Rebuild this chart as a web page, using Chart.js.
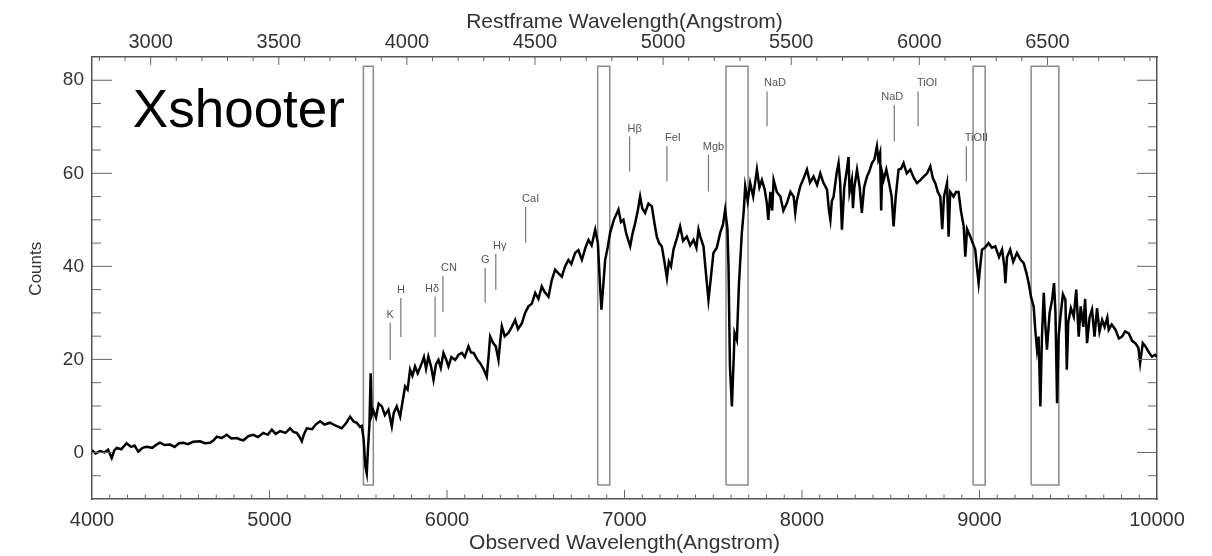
<!DOCTYPE html>
<html><head><meta charset="utf-8">
<script src="https://cdn.jsdelivr.net/npm/chart.js@4/dist/chart.umd.min.js"></script>
<style>html,body{margin:0;padding:0;background:#fff;}canvas{display:block;}</style>
</head><body>
<canvas id="c" width="1212" height="556"></canvas>
<script>
// ---- data ----
const wavelength = [
 4000,4020,4045,4070,4090,4111,4125,4139,4165,4195,
 4220,4240,4261,4285,4308,4340,4360,4383,4410,4440,
 4465,4490,4515,4540,4570,4609,4635,4665,4685,4703,
 4730,4759,4785,4815,4835,4853,4880,4909,4935,4965,
 4990,5013,5035,5060,5090,5116,5135,5154,5170,5182,
 5195,5210,5240,5260,5285,5310,5341,5370,5390,5407,
 5430,5454,5475,5491,5510,5520,5530,5540,5548,5555,
 5563,5570,5576,5585,5600,5615,5633,5650,5670,5689,
 5700,5717,5736,5750,5764,5778,5792,5805,5820,5835,
 5858,5870,5882,5895,5910,5924,5938,5952,5965,5980,
 5995,6008,6025,6046,6065,6084,6100,6121,6135,6150,
 6170,6187,6205,6224,6235,6243,6260,6275,6290,6300,
 6309,6325,6346,6365,6384,6400,6422,6440,6459,6478,
 6497,6515,6534,6550,6572,6590,6609,6628,6647,6665,
 6684,6700,6722,6740,6760,6780,6797,6815,6835,6850,
 6862,6870,6880,6891,6905,6919,6940,6966,6980,6994,
 7010,7032,7045,7060,7075,7088,7100,7116,7135,7154,
 7170,7182,7195,7210,7225,7239,7250,7262,7276,7295,
 7313,7330,7351,7370,7389,7405,7417,7430,7445,7460,
 7473,7485,7501,7520,7539,7555,7567,7580,7586,7594,
 7605,7615,7620,7633,7645,7661,7672,7680,7694,7708,
 7725,7746,7760,7774,7790,7802,7810,7822,7832,7840,7858,
 7878,7895,7915,7935,7953,7962,7970,7990,8010,8028,8045,
 8065,8085,8103,8120,8141,8152,8160,8168,8178,8195,
 8206,8215,8225,8238,8253,8262,8268,8281,8287,8295,8310,8325,
 8337,8350,8366,8380,8394,8408,8422,8430,8440,8446,8452,
 8460,8475,8490,8505,8516,8528,8544,8558,8572,8590,
 8610,8630,8648,8665,8685,8705,8723,8737,8751,8765,
 8779,8790,8800,8817,8826,8835,8854,8868,8882,8895,8911,
 8920,8930,8948,8962,8976,8985,8995,9004,9014,9030,
 9051,9070,9089,9110,9127,9140,9146,9155,9173,9190,
 9211,9230,9249,9265,9277,9290,9305,9315,9324,9333,
 9343,9352,9362,9370,9380,9395,9409,9420,9428,9437,
 9446,9456,9470,9484,9492,9500,9515,9531,9545,9559,
 9570,9585,9595,9606,9620,9634,9648,9662,9676,9691,
 9705,9720,9728,9745,9766,9785,9803,9820,9841,9860,
 9878,9895,9905,9920,9935,9955,9972,9990,10000
];
const counts = [
 0.5,-0.2,0.3,0.0,0.6,-1.2,0.4,1.0,0.7,2.0,
 1.2,1.5,0.2,1.0,1.2,1.0,1.6,2.1,1.6,1.7,
 1.2,2.0,2.1,1.8,2.3,2.4,2.0,2.1,2.6,3.4,
 3.1,3.8,3.0,3.1,2.8,2.6,3.5,3.8,3.3,4.2,
 3.8,4.9,4.0,4.6,4.2,5.2,4.4,4.2,3.3,2.4,
 4.0,5.2,5.0,6.0,6.7,6.0,6.4,5.8,5.5,5.2,
 6.2,7.7,6.6,6.4,5.5,5.7,3.0,-3.0,-4.5,1.0,
 6.0,17.0,8.0,9.0,7.5,10.5,9.9,8.0,9.2,5.6,
 8.5,9.9,7.7,11.0,14.2,13.5,17.8,16.5,18.5,17.0,
 19.2,20.5,18.0,20.6,18.5,15.6,19.0,19.9,18.2,21.4,
 20.0,18.5,20.5,19.9,21.0,21.4,20.5,22.8,21.5,21.4,
 20.0,19.2,18.0,16.3,21.0,24.9,23.5,22.8,19.9,24.0,
 27.1,25.0,25.7,27.0,28.5,26.5,27.8,30.0,31.4,32.0,
 34.3,33.0,35.7,34.5,33.5,37.0,39.3,38.5,37.8,40.0,
 41.4,40.5,42.9,43.5,41.4,44.0,45.7,44.5,47.9,45.0,
 36.0,30.7,35.7,41.4,44.0,47.2,50.0,52.2,49.5,50.0,
 47.0,44.3,47.0,49.3,52.0,55.0,52.5,51.5,53.5,52.9,
 49.0,46.4,45.0,44.3,41.0,37.5,41.0,40.0,43.6,46.0,
 48.6,45.5,46.4,44.5,45.7,44.0,47.9,46.0,44.3,38.0,
 32.8,37.0,42.9,44.0,47.2,49.0,52.2,48.0,40.0,18.5,
 9.9,20.0,25.7,24.2,36.4,47.2,52.0,57.2,54.0,57.9,
 55.0,60.8,57.0,58.6,56.5,53.6,50.0,56.0,52.0,58.6,56.0,
 55.0,52.0,53.6,56.0,55.0,51.5,54.0,57.2,59.0,60.8,58.0,
 59.3,57.5,60.0,58.0,56.5,52.0,50.0,54.0,55.0,60.0,
 62.2,58.0,47.9,57.0,60.8,63.5,56.0,58.6,52.5,57.0,60.8,57.0,
 51.5,57.0,59.3,60.5,62.2,63.0,65.8,63.0,64.4,52.0,60.0,
 58.6,60.8,58.0,55.0,48.6,55.0,60.8,61.0,62.2,60.0,
 60.8,59.0,57.9,58.5,59.3,60.0,61.5,59.0,57.9,56.0,
 55.0,48.0,55.0,57.9,46.4,56.0,55.0,56.0,56.0,52.0,48.6,
 42.1,48.0,46.4,45.0,43.6,40.0,36.4,40.0,43.6,44.0,
 45.0,44.0,44.3,42.0,43.6,40.0,36.4,42.0,43.6,41.0,
 42.9,41.5,40.7,38.5,36.4,33.5,31.4,26.0,22.1,24.9,
 9.9,25.0,34.3,28.0,22.1,30.0,32.8,36.4,30.0,10.6,
 25.0,29.2,34.0,32.8,17.8,28.0,31.0,29.2,35.0,24.9,
 31.4,27.0,33.0,23.5,29.0,30.7,24.9,31.0,26.0,28.5,
 27.0,29.0,26.4,27.5,26.4,24.5,24.9,26.0,25.6,24.0,
 23.5,22.5,19.2,23.5,22.8,21.5,20.6,21.0,20.5
];
// masked (telluric / gap) regions, observed Angstrom
const boxStart = [5529, 6849, 7572, 8964, 9291];
const boxEnd   = [5585, 6917, 7696, 9032, 9447];
const boxBottom = -7, boxTop = 83;
// spectral feature markers
const featureNames  = ['K','H','Hδ','CN','G','Hγ','CaI','Hβ','FeI','Mgb','NaD','NaD','TiOI','TiOII'];
const featureWave   = [5680,5740,5933,5977,6215,6275,6443,7029,7239,7473,7803,8520,8654,8926];
const featureTop    = [27.9,33.2,33.5,38.0,39.7,42.7,52.8,67.9,65.8,64.0,77.6,74.7,77.6,65.8];
const featureBottom = [19.9,24.8,24.8,30.2,32.2,35.0,45.1,60.4,58.3,56.1,70.1,66.9,70.1,58.3];
const onePlusZ = 1.4435;
const xLimits = [4000, 10000];
const yLimits = [-10, 85];
const bottomTickLabels = [4000, 5000, 6000, 7000, 8000, 9000, 10000];
const topTickLabels = [3000, 3500, 4000, 4500, 5000, 5500, 6000, 6500];
const yTickLabels = [0, 20, 40, 60, 80];
const panelName = 'Xshooter';
const yTitle = 'Counts';

// ---- styling ----
const FONT = "'Liberation Sans', Arial, Helvetica, sans-serif";
const labelShift = [0,0,-3,6,0,4,5,5,6,5,8,-2,9,10];
Chart.defaults.font.family = FONT;

const datasets = [{
  data: wavelength.map((w, i) => ({x: w, y: counts[i]})),
  showLine: true, borderColor: '#000', borderWidth: 2.5, pointRadius: 0,
  order: 0, tension: 0
}];
boxStart.forEach((s, i) => {
  const e = boxEnd[i];
  datasets.push({
    data: [{x:s,y:boxBottom},{x:s,y:boxTop},{x:e,y:boxTop},{x:e,y:boxBottom},{x:s,y:boxBottom}],
    showLine: true, borderColor: '#8a8a8a', borderWidth: 1.5, pointRadius: 0, order: 2
  });
});
featureWave.forEach((w, i) => {
  datasets.push({
    data: [{x:w,y:featureBottom[i]},{x:w,y:featureTop[i]}],
    showLine: true, borderColor: '#777', borderWidth: 1.2, pointRadius: 0, order: 1
  });
});

const decor = {
  id: 'decor',
  afterDatasetsDraw(chart) {
    const {ctx, chartArea: a, scales} = chart;
    const x = scales.x, xt = scales.xTop, y = scales.y;
    ctx.save();
    ctx.strokeStyle = '#666'; ctx.lineWidth = 1;
    const seg = (x1,y1,x2,y2) => {ctx.beginPath();ctx.moveTo(x1,y1);ctx.lineTo(x2,y2);ctx.stroke();};
    for (let v = xLimits[0] + 100; v < xLimits[1]; v += 100) {
      const p = x.getPixelForValue(v);
      seg(p, a.bottom, p, a.bottom - (v % 1000 === 0 ? 9 : 4.5));
    }
    for (let v = Math.ceil(xt.min / 100) * 100; v <= xt.max; v += 100) {
      const p = xt.getPixelForValue(v);
      seg(p, a.top, p, a.top + (v % 500 === 0 ? 8 : 4));
    }
    for (let v = yLimits[0] + 5; v < yLimits[1]; v += 5) {
      const p = y.getPixelForValue(v);
      const L = v % 20 === 0 ? 20 : 9;
      seg(a.left, p, a.left + L, p);
      seg(a.right, p, a.right - L, p);
    }
    // feature labels
    ctx.fillStyle = '#555';
    ctx.font = '11px ' + FONT;
    ctx.textAlign = 'center';
    ctx.textBaseline = 'alphabetic';
    featureNames.forEach((n, i) => {
      ctx.fillText(n, x.getPixelForValue(featureWave[i]) + labelShift[i], y.getPixelForValue(featureTop[i]) - 5);
    });
    // panel name
    ctx.fillStyle = '#000';
    ctx.font = '53px ' + FONT;
    ctx.textAlign = 'left';
    ctx.fillText(panelName, x.getPixelForValue(4230), y.getPixelForValue(70));
    // y-axis title
    ctx.save();
    ctx.translate(36, y.getPixelForValue(39.5));
    ctx.rotate(-Math.PI / 2);
    ctx.fillStyle = '#333';
    ctx.font = '17px ' + FONT;
    ctx.textAlign = 'center';
    ctx.textBaseline = 'middle';
    ctx.fillText(yTitle, 0, 0);
    ctx.restore();
    ctx.restore();
  }
};

const setTicks = vals => (s => { s.ticks = vals.map(v => ({value: v})); });
const tickFont = {family: FONT, size: 20};
const titleFont = {family: FONT, size: 21};
new Chart(document.getElementById('c'), {
  type: 'scatter',
  data: {datasets},
  options: {
    responsive: false, animation: false, events: [],
    layout: {padding: 0},
    plugins: {legend: {display: false}, tooltip: {enabled: false}},
    scales: {
      x: {
        type: 'linear', position: 'bottom', min: xLimits[0], max: xLimits[1],
        afterBuildTicks: setTicks(bottomTickLabels),
        afterFit: s => { s.height = 57; },
        grid: {display: false, drawTicks: false},
        border: {display: true, color: '#555', width: 1.5},
        ticks: {padding: 9, color: '#333', font: tickFont, maxRotation: 0, autoSkip: false, callback: v => String(v)},
        title: {display: true, text: 'Observed Wavelength(Angstrom)', color: '#333', font: titleFont, padding: {top: 0, bottom: 0}}
      },
      xTop: {
        type: 'linear', position: 'top', min: xLimits[0] / onePlusZ, max: xLimits[1] / onePlusZ,
        afterBuildTicks: setTicks(topTickLabels),
        afterFit: s => { s.height = 57; },
        grid: {display: false, drawTicks: false},
        border: {display: true, color: '#555', width: 1.5},
        ticks: {padding: 3, color: '#333', font: tickFont, maxRotation: 0, autoSkip: false, callback: v => String(v)},
        title: {display: true, text: 'Restframe Wavelength(Angstrom)', color: '#333', font: titleFont, padding: {top: 10, bottom: 0}}
      },
      y: {
        type: 'linear', position: 'left', min: yLimits[0], max: yLimits[1],
        afterBuildTicks: setTicks(yTickLabels),
        afterFit: s => { s.width = 92; },
        grid: {display: false, drawTicks: false},
        border: {display: true, color: '#555', width: 1.5},
        ticks: {padding: 8, color: '#333', font: {family: FONT, size: 19}, callback: v => String(v)},
        title: {display: false}
      },
      yRight: {
        type: 'linear', position: 'right', min: yLimits[0], max: yLimits[1],
        afterFit: s => { s.width = 55; },
        grid: {display: false, drawTicks: false},
        border: {display: true, color: '#555', width: 1.5},
        ticks: {display: false}
      }
    }
  },
  plugins: [decor]
});
</script>
</body></html>
